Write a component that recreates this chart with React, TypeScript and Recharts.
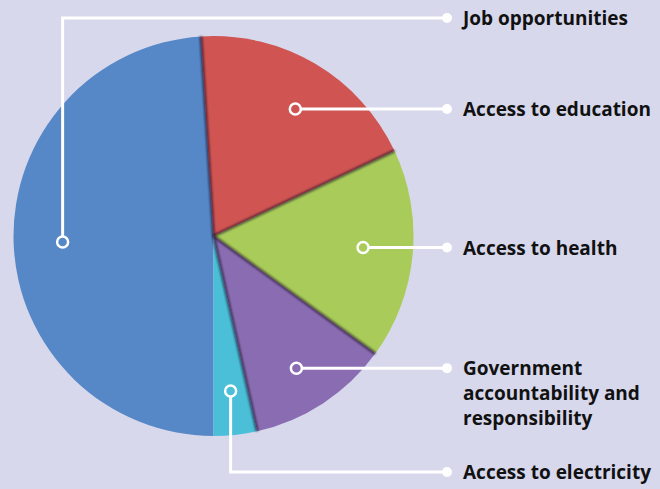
import React from 'react';
import { PieChart, Pie, Cell, Sector } from 'recharts';

// Share of respondents per priority (%)
const categories = [
  'Job opportunities',
  'Access to education',
  'Access to health',
  'Government accountability and responsibility',
  'Access to electricity',
];
const shares = [49, 19, 17, 11.5, 3.5];
const sliceColors = ['#5688c8', '#cf5452', '#a8cb5a', '#8a6cb2', '#4bbfd8'];

// label text split into lines
const labelLines = [
  ['Job opportunities'],
  ['Access to education'],
  ['Access to health'],
  ['Government', 'accountability and', 'responsibility'],
  ['Access to electricity'],
];

const BG = '#d7d8ec';
const W = 660;
const H = 489;
const LABEL_DOT_X = 447;
const LABEL_TEXT_X = 463;
// slices whose leader runs vertically first, to a label at the top / bottom
const labelRowOverride: Record<number, number> = { 0: 18, 4: 472 };
// placement of the inner dot: nudge along the arc (degrees, clockwise) and radius fraction
const dotAngleNudge = [-0.5, 2.2, -1, 1.2, 0];
const dotRadius = [0.755, 0.755, 0.75, 0.78, 0.78];

const data = categories.map((name, i) => ({ name, value: shares[i] }));

const RAD = Math.PI / 180;

const SliceShape = (props: any) => {
  const { cx, cy, outerRadius, startAngle } = props;
  const ex = cx + outerRadius * Math.cos(-startAngle * RAD);
  const ey = cy + outerRadius * Math.sin(-startAngle * RAD);
  return (
    <g>
      <Sector {...props} stroke="none" />
      <line
        x1={cx}
        y1={cy}
        x2={ex}
        y2={ey}
        stroke="rgba(20,10,30,0.6)"
        strokeWidth={3}
        filter="url(#soft)"
      />
    </g>
  );
};

const LeaderLabel = (props: any) => {
  const { cx, cy, midAngle, outerRadius, index, fill } = props;
  const r = outerRadius * dotRadius[index];
  const a = midAngle - dotAngleNudge[index];
  const dx = cx + r * Math.cos(-a * RAD);
  const dy = cy + r * Math.sin(-a * RAD);
  const rowY = labelRowOverride[index] ?? dy;
  const path =
    labelRowOverride[index] !== undefined
      ? `M${dx},${dy} L${dx},${rowY} L${LABEL_DOT_X},${rowY}`
      : `M${dx},${dy} L${LABEL_DOT_X},${rowY}`;
  const lines = labelLines[index];
  return (
    <g>
      <path d={path} fill="none" stroke="#fff" strokeWidth={3} />
      <circle cx={dx} cy={dy} r={5.5} fill={fill} stroke="#fff" strokeWidth={2.5} />
      <circle cx={LABEL_DOT_X} cy={rowY} r={5} fill="#fff" />
      <text
        x={LABEL_TEXT_X}
        y={rowY}
        fill="#111"
        fontSize={19}
        fontWeight="bold"
        fontFamily="'Open Sans', sans-serif"
        dominantBaseline="central"
      >
        {lines.map((t, k) => (
          <tspan key={k} x={LABEL_TEXT_X} dy={k === 0 ? 0 : 25}>
            {t}
          </tspan>
        ))}
      </text>
    </g>
  );
};

export default function App() {
  return (
    <div style={{ position: 'absolute', left: 0, top: 0, width: W, height: H, background: BG }}>
      <PieChart width={W} height={H} margin={{ top: 0, right: 0, bottom: 0, left: 0 }}>
        <defs>
          <filter id="soft" x="-20%" y="-20%" width="140%" height="140%">
            <feGaussianBlur stdDeviation="1" />
          </filter>
        </defs>
        <Pie
          data={data}
          dataKey="value"
          nameKey="name"
          cx={213.5}
          cy={236}
          outerRadius={200}
          startAngle={-90}
          endAngle={-450}
          stroke="none"
          isAnimationActive={false}
          shape={SliceShape}
          label={LeaderLabel}
          labelLine={false}
        >
          {data.map((d, i) => (
            <Cell key={d.name} fill={sliceColors[i]} />
          ))}
        </Pie>
      </PieChart>
    </div>
  );
}
